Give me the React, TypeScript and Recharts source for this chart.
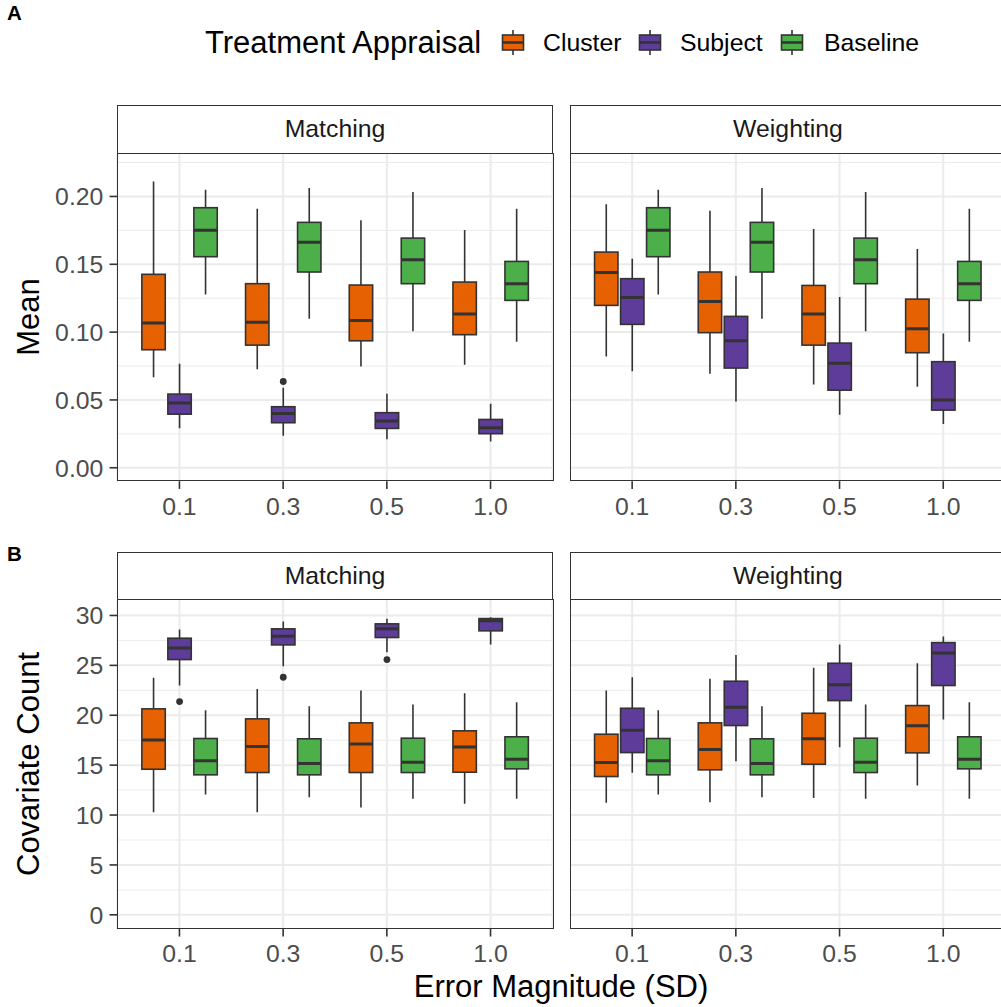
import React from 'react';
import { BarChart, Bar, XAxis, YAxis, CartesianGrid } from 'recharts';

const errorLevels = ['0.1', '0.3', '0.5', '1.0'];
const groupNames = ['Cluster', 'Subject', 'Baseline'];
const groupColors = ['#E66101', '#5E3C99', '#4DAF4A'];

// each row: [lower whisker, Q1, median, Q3, upper whisker] for one error level
const meanMatchingCluster = [
  [0.0668, 0.087, 0.1067, 0.1426, 0.211],
  [0.0727, 0.0904, 0.1072, 0.1357, 0.191],
  [0.0747, 0.0936, 0.1086, 0.1347, 0.1824],
  [0.076, 0.0981, 0.1133, 0.1369, 0.1752],
];
const meanMatchingSubject = [
  [0.0292, 0.0395, 0.0477, 0.0543, 0.0767],
  [0.0236, 0.0332, 0.04, 0.045, 0.059],
  [0.0211, 0.029, 0.0344, 0.0406, 0.0546],
  [0.0194, 0.0251, 0.0295, 0.0356, 0.0472],
];
const meanWeightingCluster = [
  [0.0821, 0.1197, 0.144, 0.159, 0.1942],
  [0.0693, 0.0996, 0.1226, 0.1443, 0.1895],
  [0.0614, 0.0904, 0.1133, 0.1344, 0.176],
  [0.0597, 0.0848, 0.1025, 0.1243, 0.1612],
];
const meanWeightingSubject = [
  [0.0712, 0.1057, 0.1256, 0.1394, 0.1541],
  [0.0489, 0.0735, 0.0936, 0.1116, 0.1413],
  [0.0391, 0.0572, 0.0771, 0.0919, 0.1258],
  [0.0322, 0.0425, 0.0499, 0.0782, 0.099],
];
const meanBaseline = [
  [0.1278, 0.1556, 0.175, 0.1917, 0.205],
  [0.1099, 0.1443, 0.1662, 0.1809, 0.2062],
  [0.1007, 0.1357, 0.1534, 0.1693, 0.2033],
  [0.0929, 0.1234, 0.1357, 0.1521, 0.191],
];
const meanMatchingSubjectOutliers = [[], [0.0636], [], []];

const countMatchingCluster = [
  [10.28, 14.59, 17.53, 20.64, 23.75],
  [10.28, 14.26, 16.86, 19.64, 22.64],
  [10.75, 14.26, 17.13, 19.24, 22.48],
  [11.12, 14.29, 16.83, 18.44, 22.2],
];
const countMatchingSubject = [
  [22.98, 25.58, 26.75, 27.72, 28.59],
  [24.91, 27.05, 27.92, 28.66, 29.39],
  [26.31, 27.79, 28.66, 29.16, 29.66],
  [27.08, 28.46, 29.46, 29.69, 29.82],
];
const countWeightingCluster = [
  [11.22, 13.86, 15.26, 18.1, 22.48],
  [11.28, 14.53, 16.56, 19.24, 23.65],
  [11.72, 15.09, 17.64, 20.2, 24.75],
  [12.96, 16.23, 18.94, 20.97, 25.21],
];
const countWeightingSubject = [
  [14.23, 16.26, 18.5, 20.7, 23.81],
  [15.39, 18.97, 20.8, 23.41, 26.05],
  [16.79, 21.47, 23.05, 25.21, 27.08],
  [19.57, 22.98, 26.25, 27.28, 27.89],
];
const countBaseline = [
  [12.05, 14.03, 15.43, 17.67, 20.5],
  [11.78, 14.03, 15.16, 17.64, 20.9],
  [11.62, 14.26, 15.29, 17.7, 21.07],
  [11.62, 14.63, 15.59, 17.84, 21.3],
];
const countMatchingSubjectOutliers = [[21.37], [23.81], [25.58], []];

const noOutliers = [[], [], [], []];

const meanTicks = [0, 0.05, 0.1, 0.15, 0.2];
const meanMinor = [0.025, 0.075, 0.125, 0.175, 0.225];
const countTicks = [0, 5, 10, 15, 20, 25, 30];
const countMinor = [2.5, 7.5, 12.5, 17.5, 22.5, 27.5];

const buildRows = (series: number[][][], outliers: number[][][]) =>
  errorLevels.map((err, i) => {
    const row: any = { err };
    groupNames.forEach((g, k) => {
      row[g] = { stats: series[k][i], out: outliers[k][i] };
    });
    return row;
  });

const meanMatchingRows = buildRows(
  [meanMatchingCluster, meanMatchingSubject, meanBaseline],
  [noOutliers, meanMatchingSubjectOutliers, noOutliers]
);
const meanWeightingRows = buildRows(
  [meanWeightingCluster, meanWeightingSubject, meanBaseline],
  [noOutliers, noOutliers, noOutliers]
);
const countMatchingRows = buildRows(
  [countMatchingCluster, countMatchingSubject, countBaseline],
  [noOutliers, countMatchingSubjectOutliers, noOutliers]
);
const countWeightingRows = buildRows(
  [countWeightingCluster, countWeightingSubject, countBaseline],
  [noOutliers, noOutliers, noOutliers]
);

const INK = '#333333';
const FONT = '"Liberation Sans", Arial, sans-serif';

const extent = (cell: any) => {
  const all = [...cell.stats, ...cell.out];
  return [Math.min(...all), Math.max(...all)];
};

// the bar spans [lowest point, highest point]; box parts are placed inside it
const BoxShape = (props: any, group: string, color: string) => {
  const { x, y, width, height, payload } = props;
  const cell = payload[group];
  const [lo, hi] = extent(cell);
  const top = Math.min(y, y + height);
  const bottom = Math.max(y, y + height);
  const py = (v: number) => bottom - ((bottom - top) * (v - lo)) / (hi - lo || 1);
  const cx = x + width / 2;
  const bw = width * 0.9;
  const [wl, q1, med, q3, wh] = cell.stats;
  return (
    <g>
      <line x1={cx} x2={cx} y1={py(wh)} y2={py(q3)} stroke={INK} strokeWidth={1.6} />
      <line x1={cx} x2={cx} y1={py(q1)} y2={py(wl)} stroke={INK} strokeWidth={1.6} />
      <rect x={cx - bw / 2} y={py(q3)} width={bw} height={py(q1) - py(q3)} fill={color} stroke={INK} strokeWidth={1.6} />
      <line x1={cx - bw / 2} x2={cx + bw / 2} y1={py(med)} y2={py(med)} stroke={INK} strokeWidth={3} />
      {cell.out.map((o: number, i: number) => (
        <circle key={i} cx={cx} cy={py(o)} r={3.4} fill={INK} />
      ))}
    </g>
  );
};

const PLOT_W = 435.4;
const AXIS_W = 117.3;
const XAXIS_H = 60;

const FacetPanel = ({ rows, domain, ticks, minor, showY, fmt, left, top, plotH }: any) => {
  const w = showY ? AXIS_W + PLOT_W : PLOT_W;
  return (
    <div style={{ position: 'absolute', left: showY ? 0 : left, top }}>
      <BarChart
        width={w}
        height={plotH + XAXIS_H}
        data={rows}
        margin={{ top: 0, right: 0, bottom: 0, left: 0 }}
        barGap={0}
        barCategoryGap="12.5%"
      >
        <CartesianGrid horizontalValues={minor} vertical={false} stroke="#EBEBEB" strokeWidth={1} />
        <CartesianGrid horizontalValues={ticks} stroke="#EBEBEB" strokeWidth={2} />
        <XAxis
          dataKey="err"
          type="category"
          interval={0}
          padding={{ left: 10.3, right: 10.3 }}
          height={XAXIS_H}
          axisLine={false}
          tickSize={7.75}
          tickMargin={8}
          tickLine={{ stroke: INK, strokeWidth: 1.6 }}
          tick={{ fill: '#4D4D4D', fontSize: 24.8 }}
        />
        <YAxis
          type="number"
          domain={domain}
          ticks={ticks}
          hide={!showY}
          width={AXIS_W}
          allowDataOverflow
          axisLine={false}
          tickSize={7.75}
          tickMargin={6.2}
          tickFormatter={fmt}
          tickLine={{ stroke: INK, strokeWidth: 1.6 }}
          tick={{ fill: '#4D4D4D', fontSize: 24.8 }}
        />
        {groupNames.map((g, k) => (
          <Bar
            key={g}
            dataKey={(r: any) => extent(r[g])}
            fill={groupColors[k]}
            isAnimationActive={false}
            shape={(p: any) => BoxShape(p, g, groupColors[k])}
          />
        ))}
      </BarChart>
    </div>
  );
};

const Strip = ({ left, top, label }: any) => (
  <div
    style={{
      position: 'absolute',
      left,
      top,
      width: PLOT_W,
      height: 48.5,
      boxSizing: 'border-box',
      border: `1.6px solid ${INK}`,
      background: '#fff',
      color: '#1A1A1A',
      fontSize: 24.8,
      display: 'flex',
      alignItems: 'center',
      justifyContent: 'center',
    }}
  >
    {label}
  </div>
);

const Border = ({ left, top, h }: any) => (
  <div
    style={{
      position: 'absolute',
      left: left - 0.8,
      top: top - 0.8,
      width: PLOT_W + 1.6,
      height: h + 1.6,
      boxSizing: 'border-box',
      border: `1.6px solid ${INK}`,
      pointerEvents: 'none',
    }}
  />
);

const LegendKey = ({ color }: { color: string }) => (
  <svg width={28} height={29} style={{ display: 'block' }}>
    <line x1={14} x2={14} y1={2} y2={27} stroke={INK} strokeWidth={1.6} />
    <rect x={3.5} y={7} width={21} height={15} fill={color} stroke={INK} strokeWidth={1.6} />
    <line x1={3.5} x2={24.5} y1={14.5} y2={14.5} stroke={INK} strokeWidth={2.6} />
  </svg>
);

const L = 117.3;
const R = 570.3;
const A_TOP = 153.5;
const A_H = 327.2;
const B_TOP = 599.5;
const B_H = 328.8;

export default function App() {
  const legendX = [499, 636, 778];
  const legendTextX = [543, 680, 824];
  return (
    <div
      style={{
        position: 'absolute',
        left: 0,
        top: 0,
        width: 1001,
        height: 1007,
        overflow: 'hidden',
        background: '#fff',
        fontFamily: FONT,
      }}
    >
      <div style={{ position: 'absolute', left: 7, top: 3.3, fontSize: 20.5, lineHeight: 1, fontWeight: 700 }}>A</div>
      <div style={{ position: 'absolute', left: 7, top: 544.3, fontSize: 20.5, lineHeight: 1, fontWeight: 700 }}>B</div>

      <div style={{ position: 'absolute', left: 205, top: 25, fontSize: 31, lineHeight: '36px', color: '#000' }}>
        Treatment Appraisal
      </div>
      {groupNames.map((g, k) => (
        <React.Fragment key={g}>
          <div style={{ position: 'absolute', left: legendX[k], top: 28 }}>
            <LegendKey color={groupColors[k]} />
          </div>
          <div style={{ position: 'absolute', left: legendTextX[k], top: 28, fontSize: 24.8, lineHeight: '29px' }}>
            {g}
          </div>
        </React.Fragment>
      ))}

      <Strip left={L} top={105} label="Matching" />
      <Strip left={R} top={105} label="Weighting" />
      <Strip left={L} top={551.5} label="Matching" />
      <Strip left={R} top={551.5} label="Weighting" />

      <FacetPanel rows={meanMatchingRows} domain={[-0.0099, 0.2313]} ticks={meanTicks} minor={meanMinor} showY fmt={(v: number) => v.toFixed(2)} left={L} top={A_TOP} plotH={A_H} />
      <FacetPanel rows={meanWeightingRows} domain={[-0.0099, 0.2313]} ticks={meanTicks} minor={meanMinor} showY={false} fmt={(v: number) => v.toFixed(2)} left={R} top={A_TOP} plotH={A_H} />
      <FacetPanel rows={countMatchingRows} domain={[-1.4, 31.55]} ticks={countTicks} minor={countMinor} showY fmt={(v: number) => String(v)} left={L} top={B_TOP} plotH={B_H} />
      <FacetPanel rows={countWeightingRows} domain={[-1.4, 31.55]} ticks={countTicks} minor={countMinor} showY={false} fmt={(v: number) => String(v)} left={R} top={B_TOP} plotH={B_H} />

      <Border left={L} top={A_TOP} h={A_H} />
      <Border left={R} top={A_TOP} h={A_H} />
      <Border left={L} top={B_TOP} h={B_H} />
      <Border left={R} top={B_TOP} h={B_H} />

      <div style={{ position: 'absolute', left: 28.5, top: 317, fontSize: 31, transform: 'translate(-50%, -50%) rotate(-90deg)', whiteSpace: 'nowrap' }}>
        Mean
      </div>
      <div style={{ position: 'absolute', left: 28.5, top: 764, fontSize: 31, transform: 'translate(-50%, -50%) rotate(-90deg)', whiteSpace: 'nowrap' }}>
        Covariate Count
      </div>
      <div style={{ position: 'absolute', left: 561, top: 987, fontSize: 31, transform: 'translate(-50%, -50%)', whiteSpace: 'nowrap' }}>
        Error Magnitude (SD)
      </div>
    </div>
  );
}
